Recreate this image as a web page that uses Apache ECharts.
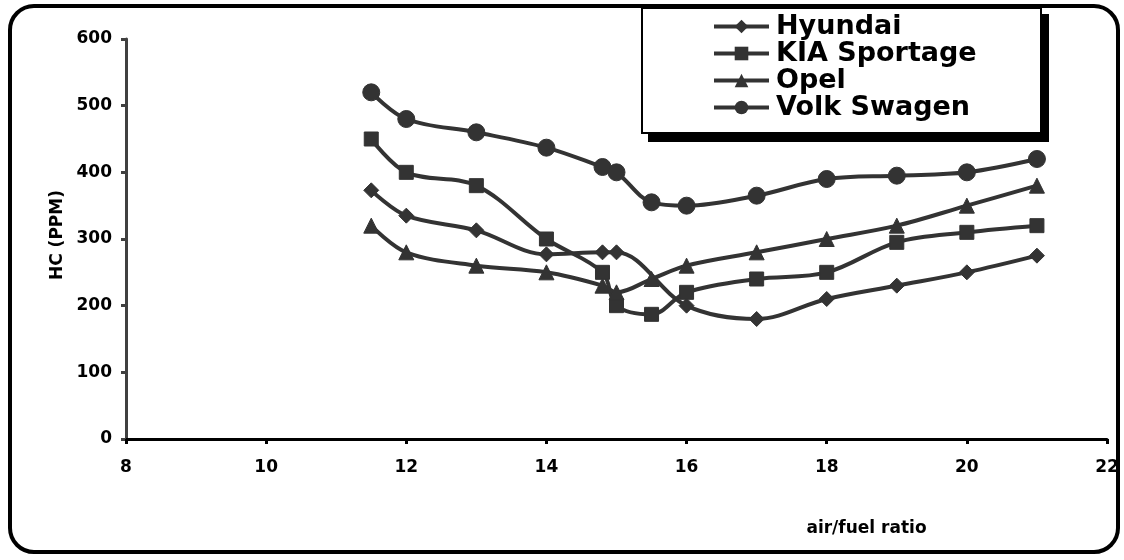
<!DOCTYPE html>
<html>
<head>
<meta charset="utf-8">
<script src="https://cdn.jsdelivr.net/npm/echarts@6/dist/echarts.min.js"></script>
<style>html,body{margin:0;padding:0;background:#fff}#c{width:1124px;height:560px}</style>
</head>
<body>
<div id="c"></div>
<script>
const airFuel = [11.5, 12, 13, 14, 14.8, 15, 15.5, 16, 17, 18, 19, 20, 21];
const hyundai = [373, 335, 313, 277, 280, 280, null, 200, 180, 210, 230, 250, 275];
const kia = [450, 400, 380, 300, 250, 200, 187, 220, 240, 250, 295, 310, 320];
const opel = [320, 280, 260, 250, 230, 220, 240, 260, 280, 300, 320, 350, 380];
const vw = [520, 480, 460, 437, 408, 400, 355, 350, 365, 390, 395, 400, 420];
const seriesNames = ['Hyundai', 'KIA Sportage', 'Opel', 'Volk Swagen'];
const seriesSymbols = ['diamond', 'rect', 'triangle', 'circle'];
const seriesValues = [hyundai, kia, opel, vw];

const FONT = 'DejaVu Sans';
const INK = '#333333';
const symbolSizes = [15, 14, 15, 17];

const chart = echarts.init(document.getElementById('c'), null, {renderer: 'canvas'});
chart.setOption({
  animation: false,
  backgroundColor: '#ffffff',
  grid: {left: 126, right: 17, top: 39, bottom: 121, containLabel: false, outerBoundsMode: 'none'},
  graphic: [
    {type: 'rect', shape: {x: 10, y: 6, width: 1108, height: 546, r: 24},
     style: {fill: 'none', stroke: '#000', lineWidth: 4}, z: 0},
    {type: 'rect', shape: {x: 648, y: 14, width: 401, height: 128},
     style: {fill: '#000'}, z: 1},
    {type: 'rect', shape: {x: 642, y: 8, width: 399, height: 125},
     style: {fill: '#fff', stroke: '#000', lineWidth: 2}, z: 2}
  ],
  legend: {
    orient: 'vertical',
    left: 712,
    top: 13,
    padding: 0,
    itemGap: 0,
    itemWidth: 55,
    itemHeight: 17,
    z: 10,
    data: seriesNames,
    lineStyle: {width: 4, color: INK},
    itemStyle: {color: INK},
    textStyle: {fontFamily: FONT, fontWeight: 'bold', fontSize: 27, color: '#000', padding: [0, 0, 0, 2]}
  },
  xAxis: {
    type: 'value', min: 8, max: 22, interval: 2,
    name: 'air/fuel ratio', nameLocation: 'middle', nameGap: 81,
    nameTextStyle: {fontFamily: FONT, fontWeight: 'bold', fontSize: 17, color: '#000', padding: [0, 0, 0, 500]},
    axisLine: {lineStyle: {color: '#000', width: 3}},
    axisTick: {show: true, length: 5, lineStyle: {color: '#000', width: 3}},
    axisLabel: {fontFamily: FONT, fontWeight: 'bold', fontSize: 17, color: '#000', margin: 20},
    splitLine: {show: false}
  },
  yAxis: {
    type: 'value', min: 0, max: 600, interval: 100,
    name: 'HC (PPM)', nameLocation: 'middle', nameGap: 50, nameRotate: 90,
    nameTextStyle: {fontFamily: FONT, fontWeight: 'bold', fontSize: 17, color: '#000', padding: [0, 0, 0, 8]},
    axisLine: {show: true, lineStyle: {color: '#404040', width: 3}},
    axisTick: {show: true, length: 5, lineStyle: {color: '#404040', width: 3}},
    axisLabel: {fontFamily: FONT, fontWeight: 'bold', fontSize: 17, color: '#000', margin: 14},
    splitLine: {show: false}
  },
  series: seriesNames.map((name, i) => ({
    name: name,
    type: 'line',
    smooth: 0.35,
    connectNulls: true,
    symbol: seriesSymbols[i],
    symbolSize: symbolSizes[i],
    z: 5,
    lineStyle: {color: INK, width: 4},
    itemStyle: {color: INK, borderColor: INK},
    data: airFuel.map((x, j) => [x, seriesValues[i][j]])
  }))
});
</script>
</body>
</html>
